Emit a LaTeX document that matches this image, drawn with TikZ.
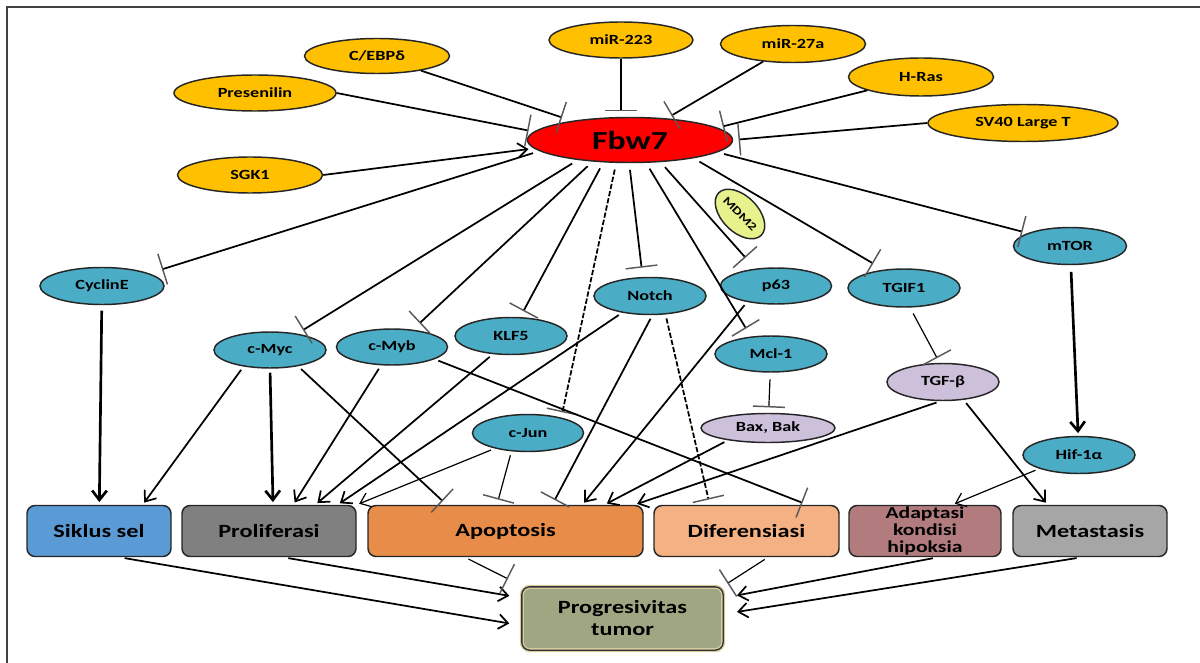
\documentclass[tikz,border=0pt]{standalone}
\usepackage{fontspec}
\setmainfont{Carlito}[FakeStretch=1.3]
\usetikzlibrary{arrows.meta,calc,shapes.geometric}
\definecolor{regul}{RGB}{255,192,0}
\definecolor{teal}{RGB}{75,172,198}
\definecolor{lilac}{RGB}{204,192,218}
\definecolor{hubred}{RGB}{255,0,0}
\definecolor{mdmgreen}{RGB}{232,242,140}
\definecolor{cycleblue}{RGB}{91,155,213}
\definecolor{prolgray}{RGB}{128,128,128}
\definecolor{apoporange}{RGB}{232,140,74}
\definecolor{diffpeach}{RGB}{244,177,131}
\definecolor{hypomauve}{RGB}{178,124,126}
\definecolor{metagray}{RGB}{166,166,166}
\definecolor{progolive}{RGB}{160,166,130}
\definecolor{progrim}{RGB}{214,204,160}

\begin{document}
\begin{tikzpicture}[x=0.75pt,y=-0.75pt,
    every node/.style={font=\bfseries},
    oval/.style={ellipse, draw=black!85, line width=1.1pt, inner sep=0pt, font=\fontsize{10.5}{12}\selectfont\bfseries},
    upstream/.style={oval, fill=regul},
    target/.style={oval, fill=teal},
    effector/.style={oval, fill=lilac},
    outcome/.style={rectangle, rounded corners=6pt, draw=black!85, line width=1.1pt, minimum height=38.25pt, inner sep=0pt, align=center, font=\fontsize{14}{14}\selectfont\bfseries},
    inh/.style={line width=1.3pt, -{Bar[width=24pt,line width=1.1pt,color=black!65]}, shorten >=4pt},
    act/.style={line width=1.3pt, -{Straight Barb[length=7pt,width=11pt]}, shorten >=2pt},
    thickact/.style={line width=2pt, -{Straight Barb[length=7pt,width=11pt]}, shorten >=2pt},
    thinact/.style={line width=0.9pt, -{Straight Barb[length=7pt,width=11pt]}, shorten >=2pt},
    dotline/.style={dash pattern=on 4pt off 1.5pt}]
  \useasboundingbox (0,0) rectangle (1200,663);
  \draw[line width=0.9pt, black!75] (7,663) -- (7,7) -- (1200,7);

  % hub
  \node[oval, fill=hubred, minimum width=153.75pt, minimum height=33.75pt, font=\fontsize{19.5}{21}\selectfont\bfseries] (fbw) at (630,140) {Fbw7};

  % upstream regulators
  \node[upstream, minimum width=108.75pt, minimum height=26.25pt] (cebp) at (377,56) {C/EBPδ};
  \node[upstream, minimum width=121.5pt, minimum height=27pt] (presenilin) at (255,93) {Presenilin};
  \node[upstream, minimum width=108.75pt, minimum height=27pt] (sgk) at (250,175) {SGK1};
  \node[upstream, minimum width=108pt, minimum height=27pt] (mir223) at (621,40) {miR-223};
  \node[upstream, minimum width=108.75pt, minimum height=27.75pt] (mir27) at (793,44) {miR-27a};
  \node[upstream, minimum width=108.75pt, minimum height=28.5pt] (hras) at (921,77) {H-Ras};
  \node[upstream, minimum width=142.5pt, minimum height=27.75pt] (sv40) at (1023,123) {SV40 Large T};

  % substrates
  \node[target, minimum width=93pt, minimum height=27.75pt] (cycline) at (102,286) {CyclinE};
  \node[target, minimum width=84pt, minimum height=27pt] (cmyc) at (270,350) {c-Myc};
  \node[target, minimum width=83.25pt, minimum height=27pt] (cmyb) at (392,347) {c-Myb};
  \node[target, minimum width=84pt, minimum height=27.75pt] (klf5) at (511,336) {KLF5};
  \node[target, minimum width=84pt, minimum height=27.75pt] (notch) at (650,296) {Notch};
  \node[target, minimum width=83.25pt, minimum height=27pt] (p63) at (776,286) {p63};
  \node[target, minimum width=84pt, minimum height=27pt] (mcl) at (771,354) {Mcl-1};
  \node[target, minimum width=83.25pt, minimum height=27.75pt] (cjun) at (528,433) {c-Jun};
  \node[target, minimum width=84pt, minimum height=28.5pt] (tgif) at (904,288) {TGIF1};
  \node[target, minimum width=84.75pt, minimum height=27.75pt] (mtor) at (1070,246) {mTOR};
  \node[target, minimum width=84pt, minimum height=27.75pt] (hif) at (1079,455) {Hif-1α};
  \node[effector, minimum width=100.5pt, minimum height=21.75pt] (baxbak) at (768,428) {Bax, Bak};
  \node[effector, minimum width=84pt, minimum height=27.75pt] (tgfb) at (943,382) {TGF-β};
  \node[oval, fill=mdmgreen, minimum width=45pt, minimum height=27pt, rotate=-45, font=\fontsize{8.5}{10}\selectfont\bfseries] (mdm) at (740,214) {MDM2};

  % outcomes
  \node[outcome, fill=cycleblue, minimum width=108pt] (siklus) at (99,531) {Siklus sel};
  \node[outcome, fill=prolgray, minimum width=130.5pt] (prolif) at (269,531) {Proliferasi};
  \node[outcome, fill=apoporange, minimum width=206.25pt] (apop) at (505.5,531) {Apoptosis};
  \node[outcome, fill=diffpeach, minimum width=138.75pt] (difer) at (746.5,531) {Diferensiasi};
  \node[outcome, fill=hypomauve, minimum width=114pt, font=\fontsize{12.5}{12.5}\selectfont\bfseries] (adapt) at (925,531) {Adaptasi\\kondisi\\hipoksia};
  \node[outcome, fill=metagray, minimum width=115.5pt] (metas) at (1090,531) {Metastasis};
  \node[outcome, fill=progolive, draw=progrim, line width=3pt, minimum width=151pt, minimum height=47.5pt, font=\fontsize{14}{16.5}\selectfont\bfseries,
        postaction={draw=black!80, line width=1pt, rounded corners=7pt}] (prog) at (622.5,618.5) {Progresivitas\\tumor};

  % into Fbw7
  \draw[inh, shorten >=8pt] (cebp) -- (fbw);
  \draw[inh] (presenilin.east) -- (fbw.175);
  \draw[act, shorten >=4pt] (sgk.east) -- (fbw.185);
  \draw[inh] (mir223) -- (mir223 |- fbw.north);
  \draw[inh] (mir27) -- (fbw);
  \draw[inh] (hras) -- (fbw.8);
  \draw[inh] (sv40.west) -- (fbw.east);

  % out of Fbw7
  \draw[inh, shorten <=5pt, shorten >=10pt] (fbw.187) -- (cycline.15);
  \draw[inh, shorten <=5pt, shorten >=5pt] (fbw.201) -- (cmyc.31);
  \draw[inh, shorten <=5pt, shorten >=7pt] (fbw.210) -- (cmyb.40);
  \draw[inh, shorten <=5pt, shorten >=5pt] (fbw.220) -- (klf5.64);
  \draw[inh, dotline, shorten <=5pt] (fbw.239) -- (cjun.25);
  \draw[inh, shorten <=5pt, shorten >=7pt] (fbw.268) -- (notch.111);
  \draw[inh, shorten <=5pt, shorten >=7pt] (fbw.305) -- (mcl.139);
  \draw[inh, shorten <=5pt, shorten >=11pt] (fbw.324) -- (p63.140);
  \draw[inh, shorten <=5pt, shorten >=9pt] (fbw.344) -- (tgif.138);
  \draw[inh, shorten <=5pt] (fbw.352) -- (mtor.163);

  % substrates to outcomes
  \draw[thickact, shorten <=4pt] (cycline) -- (siklus);
  \draw[act, shorten <=3pt] (cmyc.212) -- ($(siklus.north west)!0.8!(siklus.north east)$);
  \draw[thickact, shorten <=3pt] (cmyc.south) -- ($(prolif.north west)!0.523!(prolif.north east)$);
  \draw[inh, shorten <=3pt] (cmyc.330) -- ($(apop.north west)!0.287!(apop.north east)$);
  \draw[act, shorten <=3pt] (cmyb.239) -- ($(prolif.north west)!0.638!(prolif.north east)$);
  \draw[inh, shorten <=3pt] (cmyb.344) -- ($(difer.north west)!0.827!(difer.north east)$);
  \draw[act, shorten <=3pt] (klf5.225) -- ($(prolif.north west)!0.764!(prolif.north east)$);
  \draw[act, shorten <=3pt] (notch.211) -- ($(prolif.north west)!0.891!(prolif.north east)$);
  \draw[thinact, shorten <=3pt] (cjun.205) -- (prolif.north east);
  \draw[inh, line width=0.9pt, shorten <=3pt] (cjun.228) -- ($(apop.north west)!0.469!(apop.north east)$);
  \draw[inh, shorten <=3pt] (notch.277) -- ($(apop.north west)!0.669!(apop.north east)$);
  \draw[act, shorten <=3pt] (p63.209) -- ($(apop.north west)!0.778!(apop.north east)$);
  \draw[act, shorten <=3pt] (baxbak.197) -- ($(apop.north west)!0.858!(apop.north east)$);
  \draw[act, shorten <=3pt] (tgfb.262) -- ($(apop.north west)!0.967!(apop.north east)$);
  \draw[inh, dotline, shorten <=3pt] (notch.310) -- ($(difer.north west)!0.303!(difer.north east)$);
  \draw[thinact, shorten <=3pt] (hif.199) -- ($(adapt.north west)!0.678!(adapt.north east)$);
  \draw[act, shorten <=3pt] (tgfb.319) -- ($(metas.north west)!0.227!(metas.north east)$);
  \draw[thickact, shorten <=5pt] (mtor) -- (hif);
  \draw[inh, line width=0.9pt, shorten <=5pt] (tgif.287) -- (tgfb.100);
  \draw[inh, line width=0.9pt, shorten <=5pt] (mcl) -- (baxbak);

  % outcomes to tumour progression
  \draw[act, shorten <=4pt, shorten >=8pt] ($(siklus.south west)!0.64!(siklus.south east)$) -- ($(prog.north west)!0.6!(prog.south west)$);
  \draw[act, shorten <=4pt, shorten >=8pt] ($(prolif.south west)!0.58!(prolif.south east)$) -- ($(prog.north west)!0.19!(prog.south west)$);
  \draw[inh, line width=0.9pt, shorten <=3pt, shorten >=10pt] ($(apop.south west)!0.353!(apop.south east)$) -- (prog.north west);
  \draw[inh, line width=0.9pt, shorten <=3pt, shorten >=2pt] ($(difer.south west)!0.616!(difer.south east)$) -- (prog.north east);
  \draw[act, shorten <=4pt, shorten >=9pt] ($(adapt.south west)!0.585!(adapt.south east)$) -- ($(prog.north east)!0.19!(prog.south east)$);
  \draw[act, shorten <=4pt, shorten >=9pt] ($(metas.south west)!0.448!(metas.south east)$) -- ($(prog.north east)!0.43!(prog.south east)$);
\end{tikzpicture}
\end{document}
